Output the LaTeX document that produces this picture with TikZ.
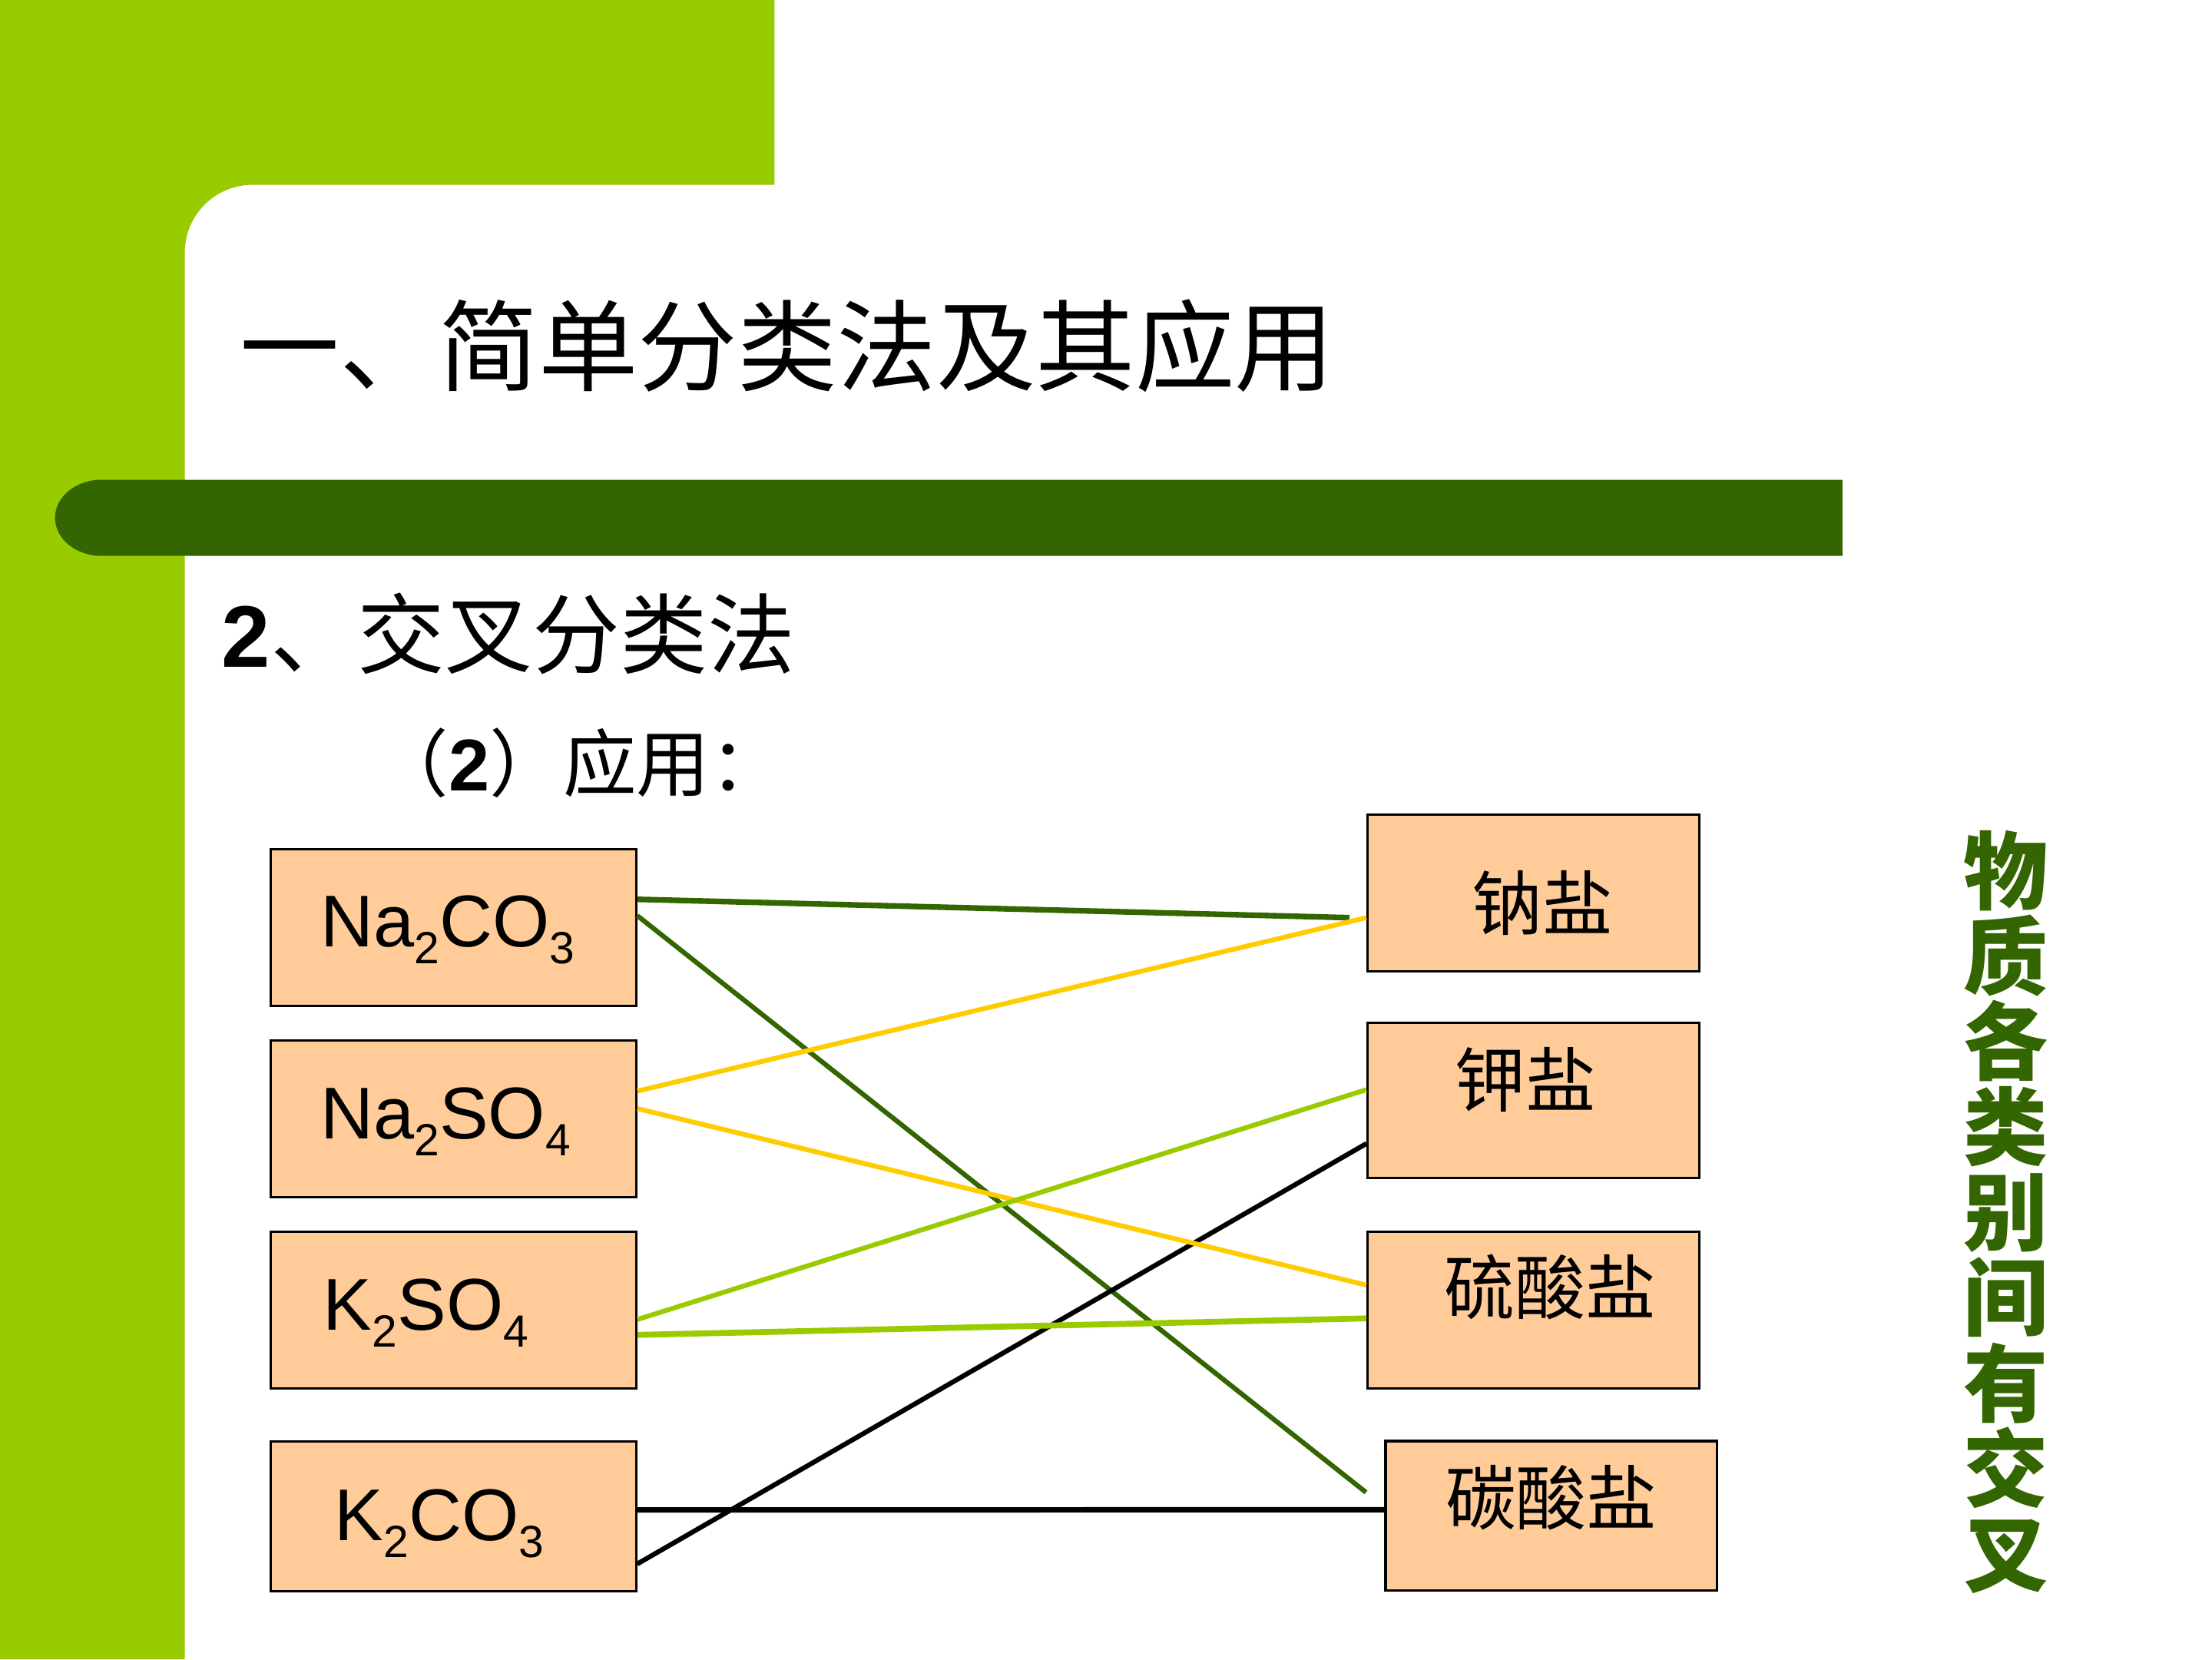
\documentclass[tikz,border=0pt]{standalone}
\usepackage{fontspec}
\setmainfont{Liberation Sans}
\newfontfamily\cjk{Noto Sans CJK SC}
\usepackage{tikz}

\definecolor{slidelime}{HTML}{99CC00}
\definecolor{slidegreen}{HTML}{336600}
\definecolor{linegold}{HTML}{FFCC00}
\definecolor{boxpeach}{HTML}{FFCC99}
\newcommand{\chsub}[1]{\raisebox{-12pt}{\fontsize{32}{32}\selectfont #1}}

\begin{document}
\begin{tikzpicture}[x=1pt,y=-1pt,
  box/.style={draw=black,line width=1.8pt,fill=boxpeach,inner sep=0pt,minimum width=259pt,minimum height=111pt},
  saltbox/.style={box,minimum width=235pt},
  chem/.style={font=\fontsize{52}{52}\selectfont,inner sep=0pt,anchor=base west},
  salt/.style={font=\cjk\fontsize{50}{50}\selectfont,inner sep=0pt},
  link/.style={line width=3.4pt}]
 \useasboundingbox (0,0) rectangle (1568,1176);
 % ---- slide background
 \fill[white] (0,0) rectangle (1568,1176);
 \fill[slidelime] (0,0) -- (549,0) -- (549,131) -- (179,131) arc[start angle=270,end angle=180,radius=48] -- (131,1176) -- (0,1176) -- cycle;
 \fill[slidegreen] (1306,340) -- (72,340) arc[start angle=270,end angle=90,x radius=33,y radius=27] -- (1306,394) -- cycle;
 % ---- headings
 \node[anchor=west,inner sep=0pt,font=\cjk\fontsize{70.5}{70.5}\selectfont] (title) at (170,245) {一、简单分类法及其应用};
 \node[anchor=west,inner sep=0pt,font=\fontsize{62}{62}\selectfont] (method) at (157,449) {{\bfseries 2}{\cjk 、交叉分类法}};
 \node[anchor=west,inner sep=0pt,font=\fontsize{52}{52}\selectfont] (usage) at (266,541) {{\cjk （}{\bfseries 2}{\cjk ）应用：}};
 % ---- substances
 \node[box] (na2co3) at (321.4,657.4) {};
 \node[box] (na2so4) at (321.4,793) {};
 \node[box] (k2so4) at (321.4,928.6) {};
 \node[box,minimum height=106pt] (k2co3) at (321.4,1074.8) {};
 \node[chem] (na2co3-txt) at (227,671) {Na\chsub{2}CO\chsub{3}};
 \node[chem] (na2so4-txt) at (227,807) {Na\chsub{2}SO\chsub{4}};
 \node[chem] (k2so4-txt) at (229,942.6) {K\chsub{2}SO\chsub{4}};
 \node[chem] (k2co3-txt) at (237,1092) {K\chsub{2}CO\chsub{3}};
 % ---- salt classes
 \node[saltbox] (nasalt) at (1087,632.8) {};
 \node[saltbox,minimum height=110pt] (ksalt) at (1087,779.9) {};
 \node[saltbox] (sulfate) at (1087,928.6) {};
 \node[saltbox,minimum height=106pt] (carbonate) at (1099.7,1074.4) {};
 \node[salt] (nasalt-txt) at (1093.5,640) {钠盐};
 \node[salt] (ksalt-txt) at (1081.6,765) {钾盐};
 \node[salt] (sulfate-txt) at (1098.8,912) {硫酸盐};
 \node[salt] (carbonate-txt) at (1099.7,1061.7) {碳酸盐};
 % ---- cross links
 \draw[link,slidegreen,line width=4pt] ([yshift=20pt]na2co3.east) -- ([xshift=-12pt,yshift=-17.6pt]nasalt.west);
 \draw[link,slidegreen] ([yshift=8.4pt]na2co3.east) -- ([xshift=-13pt,yshift=16.7pt]carbonate.west);
 \draw[link,black] ([yshift=-33.6pt]k2co3.east) -- ([yshift=-30.6pt]ksalt.west);
 \draw[link,black,line width=3.8pt] ([yshift=4.6pt]k2co3.east) -- ([yshift=4.4pt]carbonate.west);
 \draw[link,linegold] ([yshift=19.7pt]na2so4.east) -- ([yshift=-17.6pt]nasalt.west);
 \draw[link,linegold] ([yshift=7.3pt]na2so4.east) -- ([yshift=17.8pt]sulfate.west);
 \draw[link,slidelime] ([yshift=-6.6pt]k2so4.east) -- ([yshift=7.6pt]ksalt.west);
 \draw[link,slidelime,line width=4.2pt] ([yshift=-17.5pt]k2so4.east) -- ([yshift=-5.8pt]sulfate.west);
 % ---- side note
 \node[inner sep=0pt,align=center,text=slidegreen,font=\cjk\bfseries\fontsize{60}{60.5}\selectfont] (note) at (1422,859) {物\\质\\各\\类\\别\\间\\有\\交\\叉};
\end{tikzpicture}
\end{document}
